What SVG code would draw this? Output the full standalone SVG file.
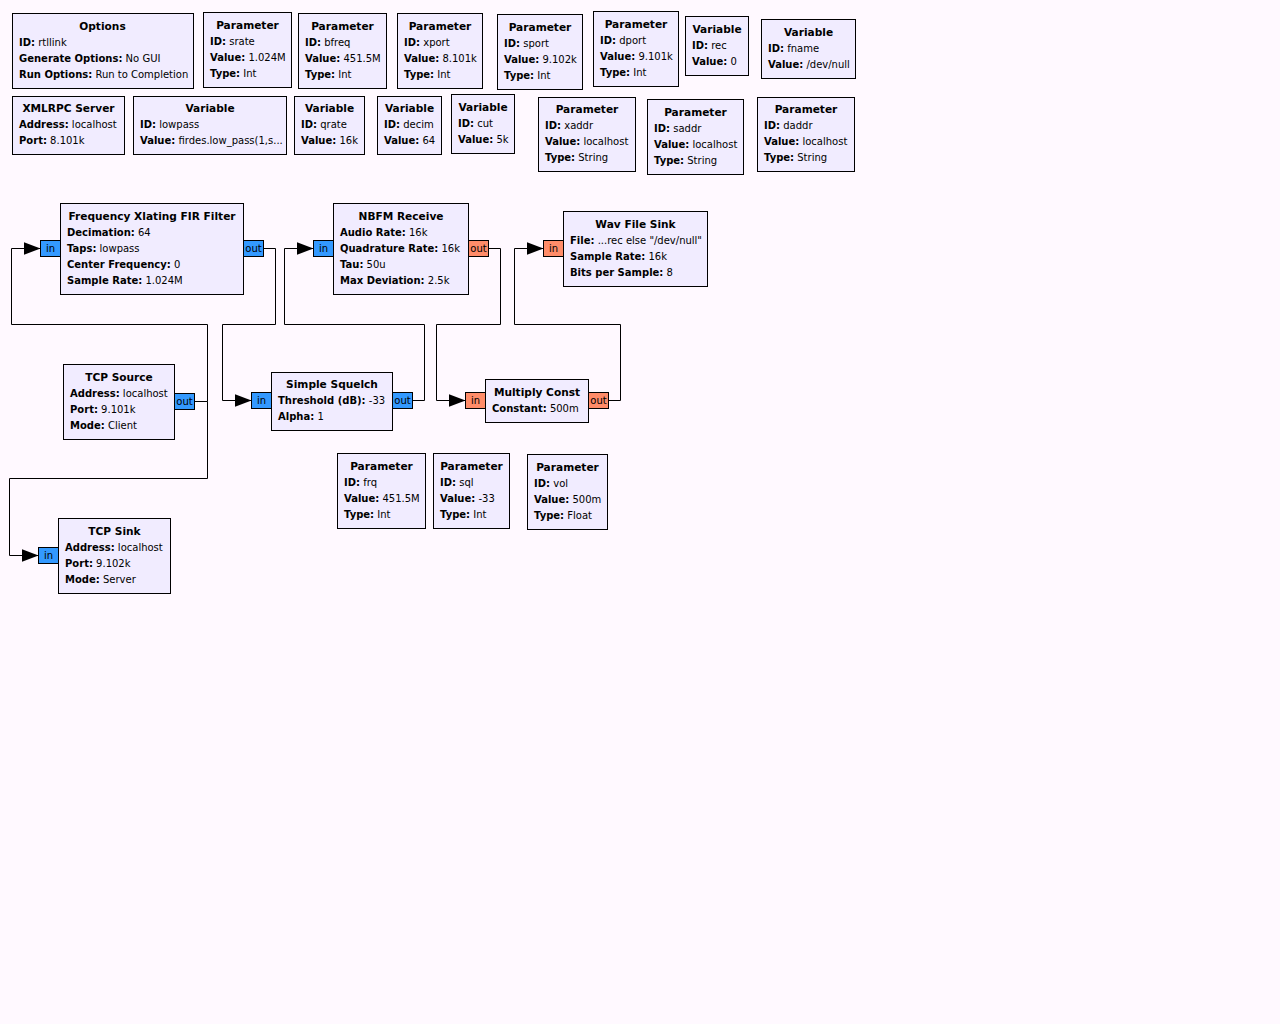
<svg xmlns="http://www.w3.org/2000/svg" width="1280" height="1024" viewBox="0 0 1280 1024">
<style>
.bg{fill:#FFF9FF}
.blk{fill:#F1ECFF;stroke:#000;stroke-width:1}
text{font-family:"DejaVu Sans","Noto Sans",sans-serif;font-size:10px;fill:#000}
.b{font-weight:bold}
.c{text-anchor:middle}
.h{font-size:10.6px}
.pc{fill:#3399FF;stroke:#000;stroke-width:1}
.pf{fill:#FF8C69;stroke:#000;stroke-width:1}
.w{fill:none;stroke:#000;stroke-width:1}
</style>
<defs>
<marker id="arr" markerUnits="userSpaceOnUse" markerWidth="17" markerHeight="13" refX="17" refY="6.5" orient="auto">
<path d="M0,0 L17,6.5 L0,13 z" fill="#000"/>
</marker>
</defs>
<rect class="bg" x="0" y="0" width="1280" height="1024"/>

<g id="connectors">
<path class="w" d="M194.5,401.5 H207.5 V324.5 H11.5 V248.5 H40.5" marker-end="url(#arr)"/>
<path class="w" d="M207.5,401.5 V478.5 H9.5 V555.5 H38.5" marker-end="url(#arr)"/>
<path class="w" d="M263.5,248.5 H275.5 V324.5 H222.5 V400.5 H251.5" marker-end="url(#arr)"/>
<path class="w" d="M412.5,400.5 H424.5 V324.5 H284.5 V248.5 H313.5" marker-end="url(#arr)"/>
<path class="w" d="M488.5,248.5 H500.5 V324.5 H436.5 V400.5 H465.5" marker-end="url(#arr)"/>
<path class="w" d="M608.5,400.5 H620.5 V324.5 H514.5 V248.5 H543.5" marker-end="url(#arr)"/>
</g>

<g id="options">
<rect class="blk" x="12.5" y="13.5" width="181" height="75"/>
<text class="b c h" x="102.5" y="30">Options</text>
<text x="19" y="46"><tspan class="b">ID:</tspan> rtllink</text>
<text x="19" y="62"><tspan class="b">Generate Options:</tspan> No GUI</text>
<text x="19" y="78"><tspan class="b">Run Options:</tspan> Run to Completion</text>
</g>

<g id="param_srate">
<rect class="blk" x="203.5" y="12.5" width="88" height="75"/>
<text class="b c h" x="247.5" y="29">Parameter</text>
<text x="210" y="45"><tspan class="b">ID:</tspan> srate</text>
<text x="210" y="61"><tspan class="b">Value:</tspan> 1.024M</text>
<text x="210" y="77"><tspan class="b">Type:</tspan> Int</text>
</g>

<g id="param_bfreq">
<rect class="blk" x="298.5" y="13.5" width="88" height="75"/>
<text class="b c h" x="342.5" y="30">Parameter</text>
<text x="305" y="46"><tspan class="b">ID:</tspan> bfreq</text>
<text x="305" y="62"><tspan class="b">Value:</tspan> 451.5M</text>
<text x="305" y="78"><tspan class="b">Type:</tspan> Int</text>
</g>

<g id="param_xport">
<rect class="blk" x="397.5" y="13.5" width="85" height="75"/>
<text class="b c h" x="440" y="30">Parameter</text>
<text x="404" y="46"><tspan class="b">ID:</tspan> xport</text>
<text x="404" y="62"><tspan class="b">Value:</tspan> 8.101k</text>
<text x="404" y="78"><tspan class="b">Type:</tspan> Int</text>
</g>

<g id="param_sport">
<rect class="blk" x="497.5" y="14.5" width="85" height="75"/>
<text class="b c h" x="540" y="31">Parameter</text>
<text x="504" y="47"><tspan class="b">ID:</tspan> sport</text>
<text x="504" y="63"><tspan class="b">Value:</tspan> 9.102k</text>
<text x="504" y="79"><tspan class="b">Type:</tspan> Int</text>
</g>

<g id="param_dport">
<rect class="blk" x="593.5" y="11.5" width="85" height="75"/>
<text class="b c h" x="636" y="28">Parameter</text>
<text x="600" y="44"><tspan class="b">ID:</tspan> dport</text>
<text x="600" y="60"><tspan class="b">Value:</tspan> 9.101k</text>
<text x="600" y="76"><tspan class="b">Type:</tspan> Int</text>
</g>

<g id="var_rec">
<rect class="blk" x="685.5" y="16.5" width="63" height="59"/>
<text class="b c h" x="717" y="33">Variable</text>
<text x="692" y="49"><tspan class="b">ID:</tspan> rec</text>
<text x="692" y="65"><tspan class="b">Value:</tspan> 0</text>
</g>

<g id="var_fname">
<rect class="blk" x="761.5" y="19.5" width="94" height="59"/>
<text class="b c h" x="808.5" y="36">Variable</text>
<text x="768" y="52"><tspan class="b">ID:</tspan> fname</text>
<text x="768" y="68"><tspan class="b">Value:</tspan> /dev/null</text>
</g>

<g id="xmlrpc_server">
<rect class="blk" x="12.5" y="96.5" width="112" height="58"/>
<text class="b c h" x="68.5" y="112">XMLRPC Server</text>
<text x="19" y="128"><tspan class="b">Address:</tspan> localhost</text>
<text x="19" y="144"><tspan class="b">Port:</tspan> 8.101k</text>
</g>

<g id="var_lowpass">
<rect class="blk" x="133.5" y="96.5" width="153" height="58"/>
<text class="b c h" x="210" y="112">Variable</text>
<text x="140" y="128"><tspan class="b">ID:</tspan> lowpass</text>
<text x="140" y="144"><tspan class="b">Value:</tspan> firdes.low_pass(1,s...</text>
</g>

<g id="var_qrate">
<rect class="blk" x="294.5" y="96.5" width="70" height="58"/>
<text class="b c h" x="329.5" y="112">Variable</text>
<text x="301" y="128"><tspan class="b">ID:</tspan> qrate</text>
<text x="301" y="144"><tspan class="b">Value:</tspan> 16k</text>
</g>

<g id="var_decim">
<rect class="blk" x="377.5" y="96.5" width="64" height="58"/>
<text class="b c h" x="409.5" y="112">Variable</text>
<text x="384" y="128"><tspan class="b">ID:</tspan> decim</text>
<text x="384" y="144"><tspan class="b">Value:</tspan> 64</text>
</g>

<g id="var_cut">
<rect class="blk" x="451.5" y="94.5" width="63" height="59"/>
<text class="b c h" x="483" y="111">Variable</text>
<text x="458" y="127"><tspan class="b">ID:</tspan> cut</text>
<text x="458" y="143"><tspan class="b">Value:</tspan> 5k</text>
</g>

<g id="param_xaddr">
<rect class="blk" x="538.5" y="97.5" width="97" height="74"/>
<text class="b c h" x="587" y="113">Parameter</text>
<text x="545" y="129"><tspan class="b">ID:</tspan> xaddr</text>
<text x="545" y="145"><tspan class="b">Value:</tspan> localhost</text>
<text x="545" y="161"><tspan class="b">Type:</tspan> String</text>
</g>

<g id="param_saddr">
<rect class="blk" x="647.5" y="99.5" width="96" height="75"/>
<text class="b c h" x="695.5" y="116">Parameter</text>
<text x="654" y="132"><tspan class="b">ID:</tspan> saddr</text>
<text x="654" y="148"><tspan class="b">Value:</tspan> localhost</text>
<text x="654" y="164"><tspan class="b">Type:</tspan> String</text>
</g>

<g id="param_daddr">
<rect class="blk" x="757.5" y="97.5" width="97" height="74"/>
<text class="b c h" x="806" y="113">Parameter</text>
<text x="764" y="129"><tspan class="b">ID:</tspan> daddr</text>
<text x="764" y="145"><tspan class="b">Value:</tspan> localhost</text>
<text x="764" y="161"><tspan class="b">Type:</tspan> String</text>
</g>

<g id="freq_xlating_fir_filter">
<rect class="blk" x="60.5" y="203.5" width="183" height="91"/>
<text class="b c h" x="152" y="220">Frequency Xlating FIR Filter</text>
<text x="67" y="236"><tspan class="b">Decimation:</tspan> 64</text>
<text x="67" y="252"><tspan class="b">Taps:</tspan> lowpass</text>
<text x="67" y="268"><tspan class="b">Center Frequency:</tspan> 0</text>
<text x="67" y="284"><tspan class="b">Sample Rate:</tspan> 1.024M</text>
<rect class="pc" x="40.5" y="240.5" width="20" height="16"/>
<text class="c" x="50.5" y="252">in</text>
<rect class="pc" x="243.5" y="240.5" width="20" height="16"/>
<text class="c" x="253.5" y="252">out</text>
</g>

<g id="nbfm_receive">
<rect class="blk" x="333.5" y="203.5" width="135" height="91"/>
<text class="b c h" x="401" y="220">NBFM Receive</text>
<text x="340" y="236"><tspan class="b">Audio Rate:</tspan> 16k</text>
<text x="340" y="252"><tspan class="b">Quadrature Rate:</tspan> 16k</text>
<text x="340" y="268"><tspan class="b">Tau:</tspan> 50u</text>
<text x="340" y="284"><tspan class="b">Max Deviation:</tspan> 2.5k</text>
<rect class="pc" x="313.5" y="240.5" width="20" height="16"/>
<text class="c" x="323.5" y="252">in</text>
<rect class="pf" x="468.5" y="240.5" width="20" height="16"/>
<text class="c" x="478.5" y="252">out</text>
</g>

<g id="wav_file_sink">
<rect class="blk" x="563.5" y="211.5" width="144" height="75"/>
<text class="b c h" x="635.5" y="228">Wav File Sink</text>
<text x="570" y="244"><tspan class="b">File:</tspan> ...rec else "/dev/null"</text>
<text x="570" y="260"><tspan class="b">Sample Rate:</tspan> 16k</text>
<text x="570" y="276"><tspan class="b">Bits per Sample:</tspan> 8</text>
<rect class="pf" x="543.5" y="240.5" width="20" height="16"/>
<text class="c" x="553.5" y="252">in</text>
</g>

<g id="tcp_source">
<rect class="blk" x="63.5" y="364.5" width="111" height="75"/>
<text class="b c h" x="119" y="381">TCP Source</text>
<text x="70" y="397"><tspan class="b">Address:</tspan> localhost</text>
<text x="70" y="413"><tspan class="b">Port:</tspan> 9.101k</text>
<text x="70" y="429"><tspan class="b">Mode:</tspan> Client</text>
<rect class="pc" x="174.5" y="393.5" width="20" height="16"/>
<text class="c" x="184.5" y="405">out</text>
</g>

<g id="simple_squelch">
<rect class="blk" x="271.5" y="372.5" width="121" height="58"/>
<text class="b c h" x="332" y="388">Simple Squelch</text>
<text x="278" y="404"><tspan class="b">Threshold (dB):</tspan> -33</text>
<text x="278" y="420"><tspan class="b">Alpha:</tspan> 1</text>
<rect class="pc" x="251.5" y="392.5" width="20" height="16"/>
<text class="c" x="261.5" y="404">in</text>
<rect class="pc" x="392.5" y="392.5" width="20" height="16"/>
<text class="c" x="402.5" y="404">out</text>
</g>

<g id="multiply_const">
<rect class="blk" x="485.5" y="379.5" width="103" height="43"/>
<text class="b c h" x="537" y="396">Multiply Const</text>
<text x="492" y="412"><tspan class="b">Constant:</tspan> 500m</text>
<rect class="pf" x="465.5" y="392.5" width="20" height="16"/>
<text class="c" x="475.5" y="404">in</text>
<rect class="pf" x="588.5" y="392.5" width="20" height="16"/>
<text class="c" x="598.5" y="404">out</text>
</g>

<g id="tcp_sink">
<rect class="blk" x="58.5" y="518.5" width="112" height="75"/>
<text class="b c h" x="114.5" y="535">TCP Sink</text>
<text x="65" y="551"><tspan class="b">Address:</tspan> localhost</text>
<text x="65" y="567"><tspan class="b">Port:</tspan> 9.102k</text>
<text x="65" y="583"><tspan class="b">Mode:</tspan> Server</text>
<rect class="pc" x="38.5" y="547.5" width="20" height="16"/>
<text class="c" x="48.5" y="559">in</text>
</g>

<g id="param_frq">
<rect class="blk" x="337.5" y="453.5" width="88" height="75"/>
<text class="b c h" x="381.5" y="470">Parameter</text>
<text x="344" y="486"><tspan class="b">ID:</tspan> frq</text>
<text x="344" y="502"><tspan class="b">Value:</tspan> 451.5M</text>
<text x="344" y="518"><tspan class="b">Type:</tspan> Int</text>
</g>

<g id="param_sql">
<rect class="blk" x="433.5" y="453.5" width="76" height="75"/>
<text class="b c h" x="471.5" y="470">Parameter</text>
<text x="440" y="486"><tspan class="b">ID:</tspan> sql</text>
<text x="440" y="502"><tspan class="b">Value:</tspan> -33</text>
<text x="440" y="518"><tspan class="b">Type:</tspan> Int</text>
</g>

<g id="param_vol">
<rect class="blk" x="527.5" y="454.5" width="80" height="75"/>
<text class="b c h" x="567.5" y="471">Parameter</text>
<text x="534" y="487"><tspan class="b">ID:</tspan> vol</text>
<text x="534" y="503"><tspan class="b">Value:</tspan> 500m</text>
<text x="534" y="519"><tspan class="b">Type:</tspan> Float</text>
</g>
</svg>
